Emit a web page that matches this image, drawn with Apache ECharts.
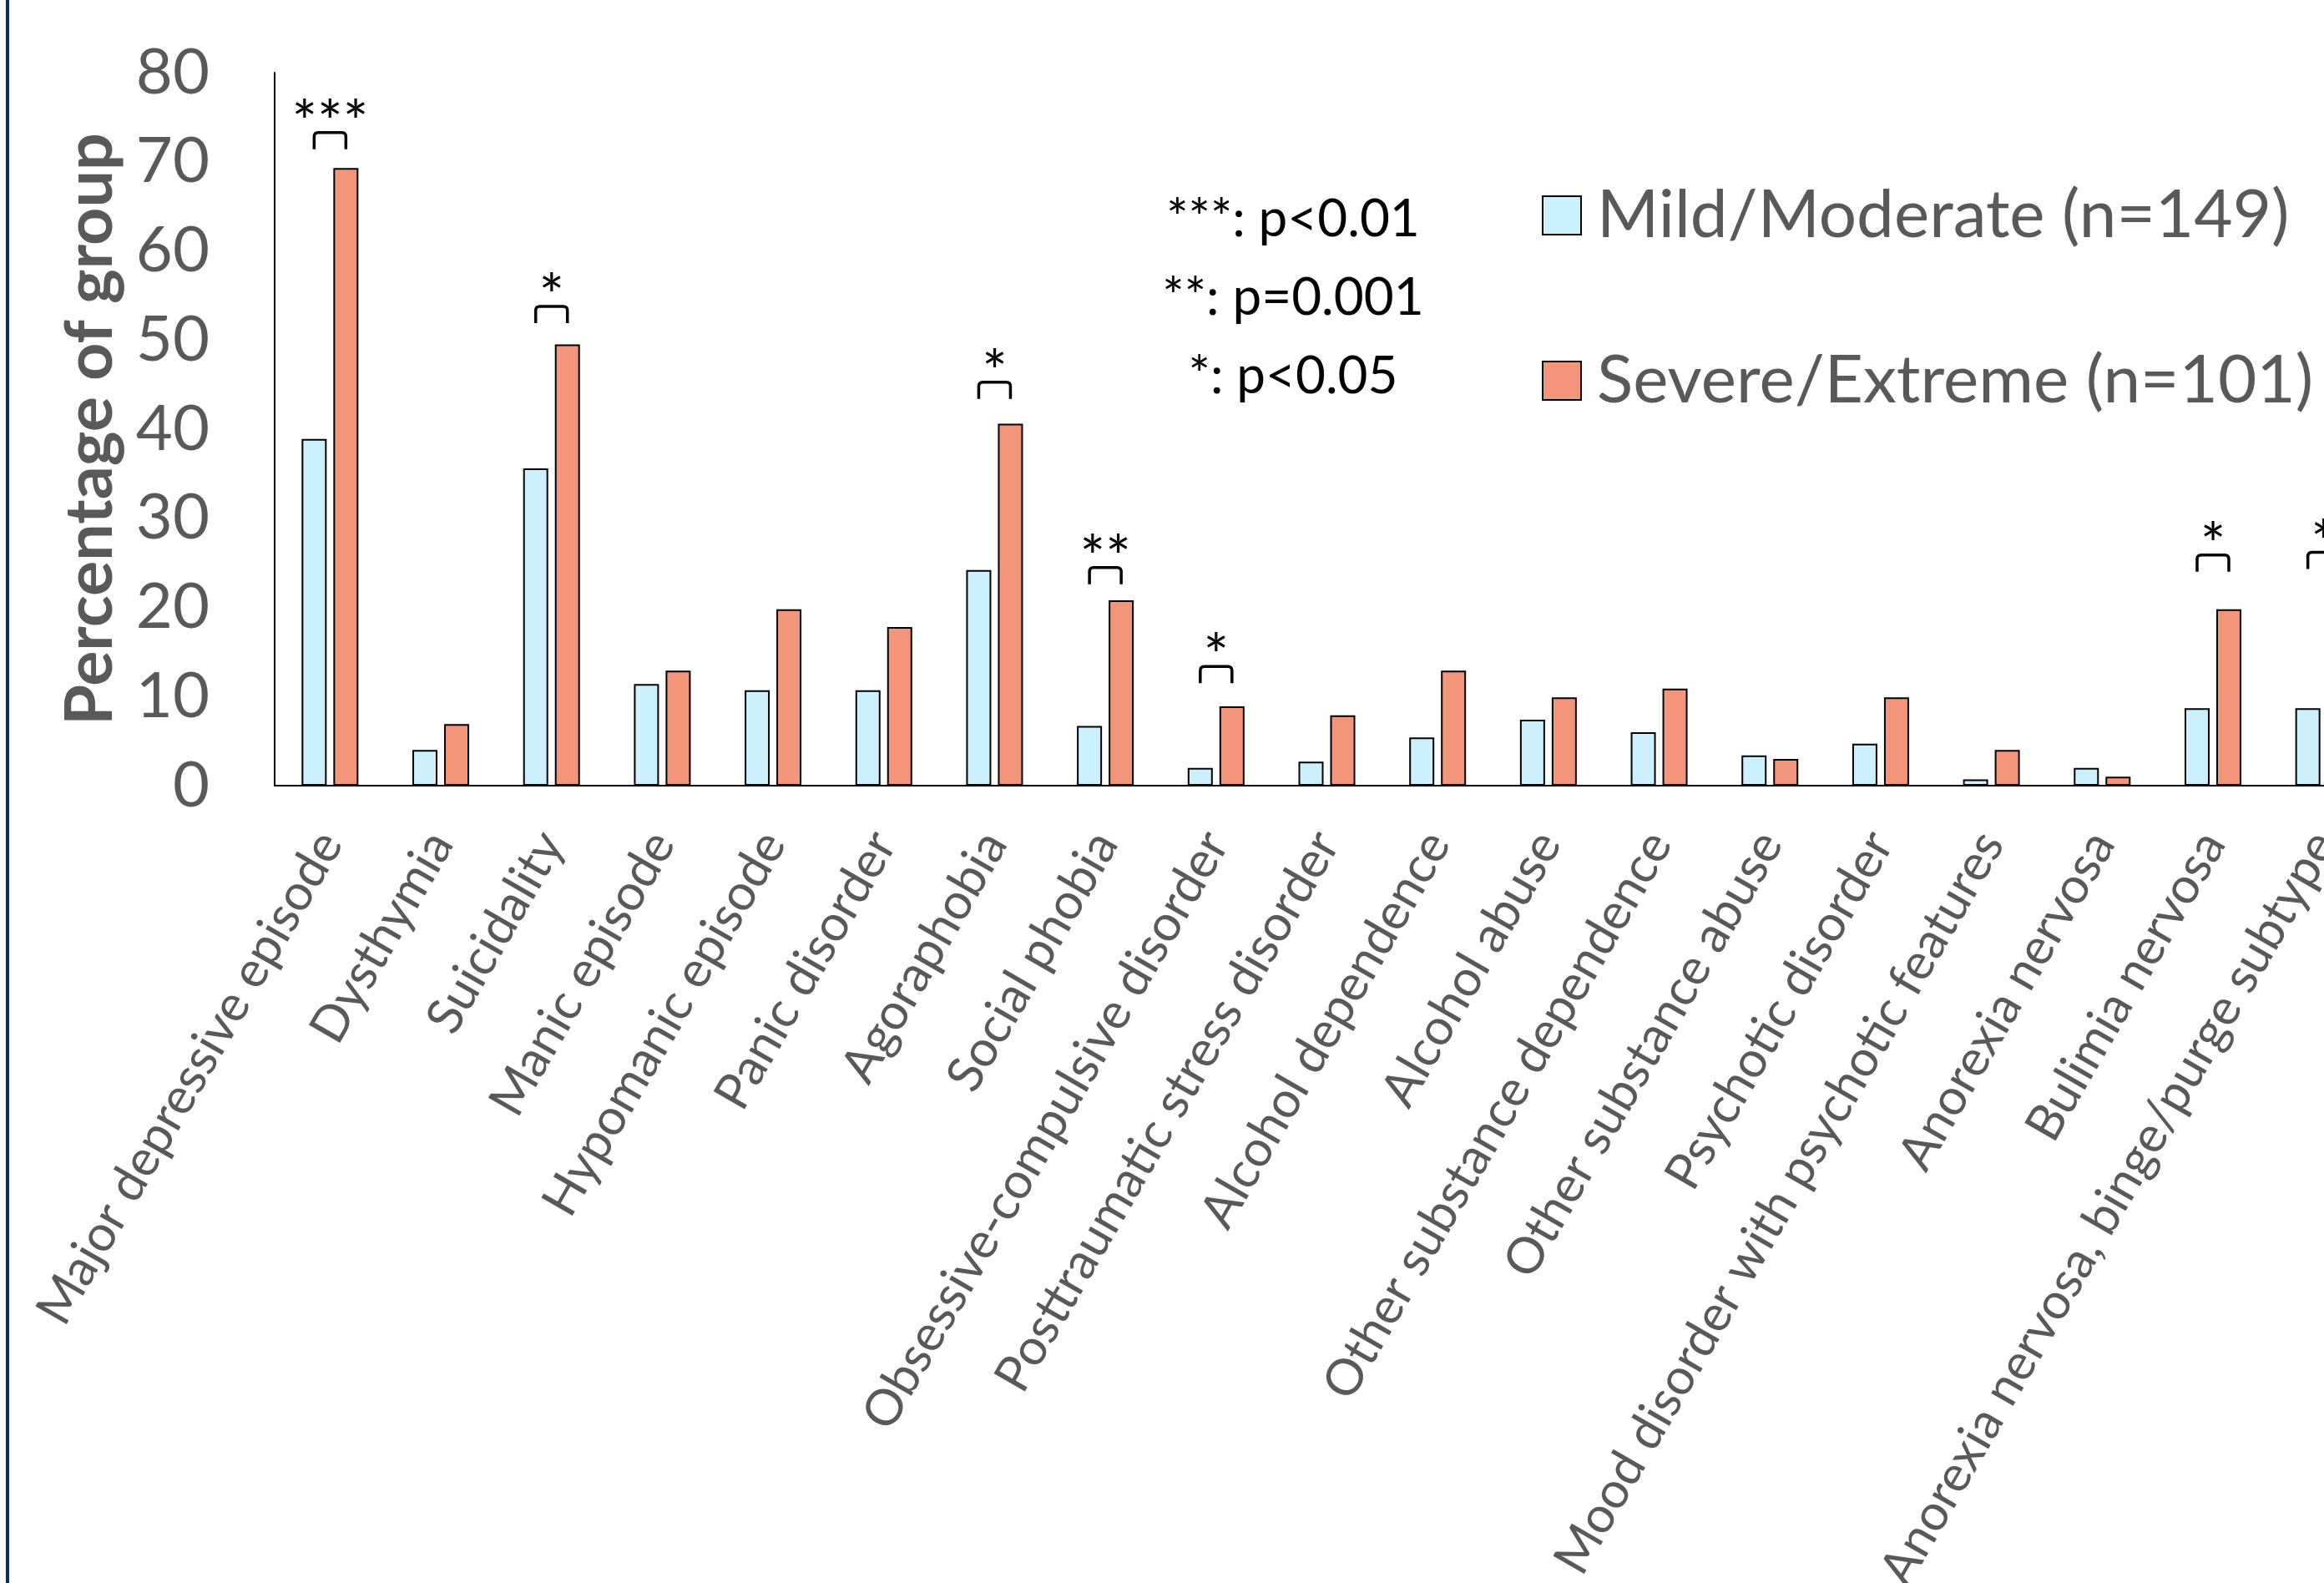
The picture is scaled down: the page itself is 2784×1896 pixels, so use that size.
<!DOCTYPE html>
<html>
<head>
<meta charset="utf-8">
<script src="https://cdn.jsdelivr.net/npm/echarts@6/dist/echarts.min.js"></script>
<style>
  html, body { margin: 0; padding: 0; background: #ffffff; }
  #chart { width: 2784px; height: 1896px; }
</style>
</head>
<body>
<div id="chart"></div>
<script>
// Diagnoses assessed in both severity groups
const categories = [
  'Major depressive episode', 'Dysthymia', 'Suicidality', 'Manic episode',
  'Hypomanic episode', 'Panic disorder', 'Agoraphobia', 'Social phobia',
  'Obsessive-compulsive disorder', 'Posttraumatic stress disorder',
  'Alcohol dependence', 'Alcohol abuse', 'Other substance dependence',
  'Other substance abuse', 'Psychotic disorder',
  'Mood disorder with psychotic features', 'Anorexia nervosa',
  'Bulimia nervosa', 'Anorexia nervosa, binge/purge subtype'
];

// Percentage of each group meeting criteria
const mildValues   = [38.9, 4.0, 35.6, 11.4, 10.7, 10.7, 24.2, 6.7, 2.0, 2.7, 5.4, 7.4, 6.0, 3.4, 4.7, 0.7, 2.0, 8.7, 8.7];
const severeValues = [69.3, 6.9, 49.5, 12.9, 19.8, 17.8, 40.6, 20.8, 8.9, 7.9, 12.9, 9.9, 10.9, 3.0, 9.9, 4.0, 1.0, 19.8, 19.8];

const seriesNames = ['Mild/Moderate (n=149)', 'Severe/Extreme (n=101)'];

// Value axis ticks
const yMin = 0, yMax = 80, yStep = 10;

// Significance brackets: category index, star label, bracket level (percent)
const sigCats   = [0, 2, 6, 7, 8, 17, 18];
const sigStars  = ['***', '*', '*', '**', '*', '*', '*'];
const sigLevels = [71.4, 51.9, 43.4, 22.6, 11.5, 24.0, 24.3];

const pKey = ['***: p<0.01', '**: p=0.001', '*: p<0.05'];

const FONT = 'Lato';
const GREY = '#595959';
const BAR_W = 30;
const BAR_GAP = 8;   // px between the two bars of a pair

const chart = echarts.init(document.getElementById('chart'), null, { renderer: 'canvas' });

function renderBracket(params, api) {
  const c = api.coord([api.value(0), api.value(1)]);
  const half = (BAR_W + BAR_GAP) / 2;
  const x1 = c[0] - half, x2 = c[0] + half;
  const yb = c[1], yt = c[1] - 20, r = 5;
  const d = 'M' + x1 + ' ' + yb + ' L' + x1 + ' ' + (yt + r) +
            ' Q' + x1 + ' ' + yt + ' ' + (x1 + r) + ' ' + yt +
            ' L' + (x2 - r) + ' ' + yt +
            ' Q' + x2 + ' ' + yt + ' ' + x2 + ' ' + (yt + r) +
            ' L' + x2 + ' ' + yb;
  return {
    type: 'group',
    children: [
      { type: 'path', shape: { pathData: d },
        style: { fill: null, stroke: '#000', lineWidth: 3.5, lineCap: 'butt', lineJoin: 'round' } },
      { type: 'text',
        style: { text: sigStars[params.dataIndex], x: c[0], y: yt - 10,
                 align: 'center', verticalAlign: 'middle',
                 font: '72px ' + FONT, fill: '#000' } }
    ]
  };
}

const option = {
  backgroundColor: '#ffffff',
  animation: false,
  textStyle: { fontFamily: FONT },
  // plot area runs past the right edge of the canvas
  grid: { left: 329, top: 87, width: 2521, height: 854, outerBoundsMode: 'none', containLabel: false },
  legend: {
    orient: 'vertical',
    left: 1847,
    top: 218,
    padding: 0,
    itemWidth: 46,
    itemHeight: 46,
    itemGap: 118,
    icon: 'rect',
    data: seriesNames,
    textStyle: { fontFamily: FONT, fontSize: 80, color: GREY, lineHeight: 76, padding: [0, 0, 0, 14] }
  },
  xAxis: {
    type: 'category',
    data: categories,
    axisTick: { show: false },
    axisLine: { show: true, lineStyle: { color: '#000', width: 2 } },
    axisLabel: {
      interval: 0, rotate: 60, margin: 60,
      fontFamily: FONT, fontSize: 60, color: GREY
    }
  },
  yAxis: {
    type: 'value',
    min: yMin, max: yMax, interval: yStep,
    name: 'Percentage of group',
    nameLocation: 'middle',
    nameGap: 181,
    nameTextStyle: { fontFamily: FONT, fontSize: 79, fontWeight: 'bold', color: GREY },
    axisLine: { show: true, lineStyle: { color: '#000', width: 2 } },
    axisTick: { show: false },
    splitLine: { show: false },
    axisLabel: { margin: 78, fontFamily: FONT, fontSize: 76, color: GREY }
  },
  series: [
    {
      name: seriesNames[0], type: 'bar', data: mildValues,
      barWidth: BAR_W, barGap: (BAR_GAP / BAR_W * 100) + '%',
      itemStyle: { color: '#CCF0FD', borderColor: '#000', borderWidth: 2 }
    },
    {
      name: seriesNames[1], type: 'bar', data: severeValues,
      barWidth: BAR_W, barGap: (BAR_GAP / BAR_W * 100) + '%',
      itemStyle: { color: '#F2957B', borderColor: '#000', borderWidth: 2 }
    },
    {
      type: 'custom',
      renderItem: renderBracket,
      data: sigCats.map((c, i) => [c, sigLevels[i]]),
      silent: true,
      clip: false,
      z: 5
    }
  ],
  graphic: [
    { type: 'rect', left: 7, top: 0, shape: { width: 4, height: 1896 },
      style: { fill: '#0B2A6A' } },
    { type: 'text', x: 1549, y: 216,
      style: { text: pKey.join('\n'), font: '62px ' + FONT, fill: '#000',
               align: 'center', verticalAlign: 'top', lineHeight: 94 } }
  ]
};

chart.setOption(option);
</script>
</body>
</html>
